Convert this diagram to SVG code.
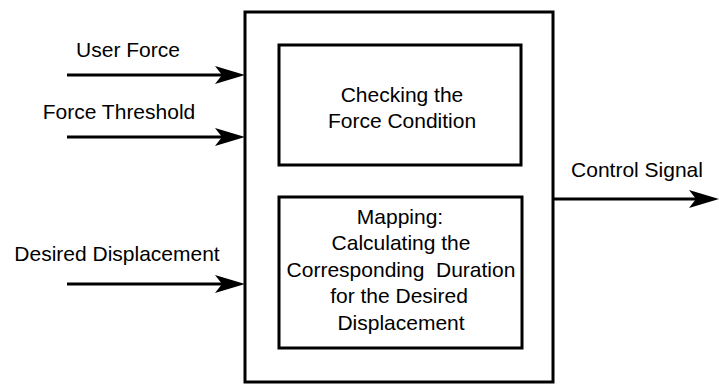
<svg xmlns="http://www.w3.org/2000/svg" width="719" height="385" viewBox="0 0 719 385">
  <style>
    .box { fill: #ffffff; stroke: #000000; stroke-width: 3; }
    .wire { fill: none; stroke: #000000; stroke-width: 3; }
    text { font-family: "Liberation Sans", Arial, sans-serif; font-size: 21px; fill: #000000; }
    .c { text-anchor: middle; }
  </style>
  <defs>
    <marker id="arrow" markerUnits="userSpaceOnUse" markerWidth="32" markerHeight="22" refX="7" refY="11" orient="auto" overflow="visible">
      <path d="M0,2 L30,11 L0,20 L7,11 Z" fill="#000000"/>
    </marker>
  </defs>

  <rect width="719" height="385" fill="#ffffff"/>

  <!-- controller block -->
  <g id="controller">
    <rect class="box" x="245" y="12" width="308" height="370"/>
  </g>

  <g id="force-check">
    <rect class="box" x="279" y="45" width="242" height="120"/>
    <text class="c" x="402" y="102">Checking the</text>
    <text class="c" x="402" y="128">Force Condition</text>
  </g>

  <g id="mapping">
    <rect class="box" x="279" y="197" width="243" height="151"/>
    <text class="c" x="400" y="224">Mapping:</text>
    <text class="c" x="401" y="250">Calculating the</text>
    <text class="c" x="401" y="277" xml:space="preserve">Corresponding  Duration</text>
    <text class="c" x="399" y="303">for the Desired</text>
    <text class="c" x="401" y="330">Displacement</text>
  </g>

  <!-- signal lines -->
  <g id="connectors">
    <line class="wire" x1="67" y1="75" x2="222" y2="75" marker-end="url(#arrow)"/>
    <line class="wire" x1="67" y1="137" x2="222" y2="137" marker-end="url(#arrow)"/>
    <line class="wire" x1="67" y1="284" x2="222" y2="284" marker-end="url(#arrow)"/>
    <line class="wire" x1="553" y1="199" x2="696" y2="199" marker-end="url(#arrow)"/>
  </g>

  <g id="labels">
    <text class="c" x="128" y="57">User Force</text>
    <text class="c" x="119" y="119">Force Threshold</text>
    <text class="c" x="117" y="261">Desired Displacement</text>
    <text class="c" x="637" y="177">Control Signal</text>
  </g>
</svg>
